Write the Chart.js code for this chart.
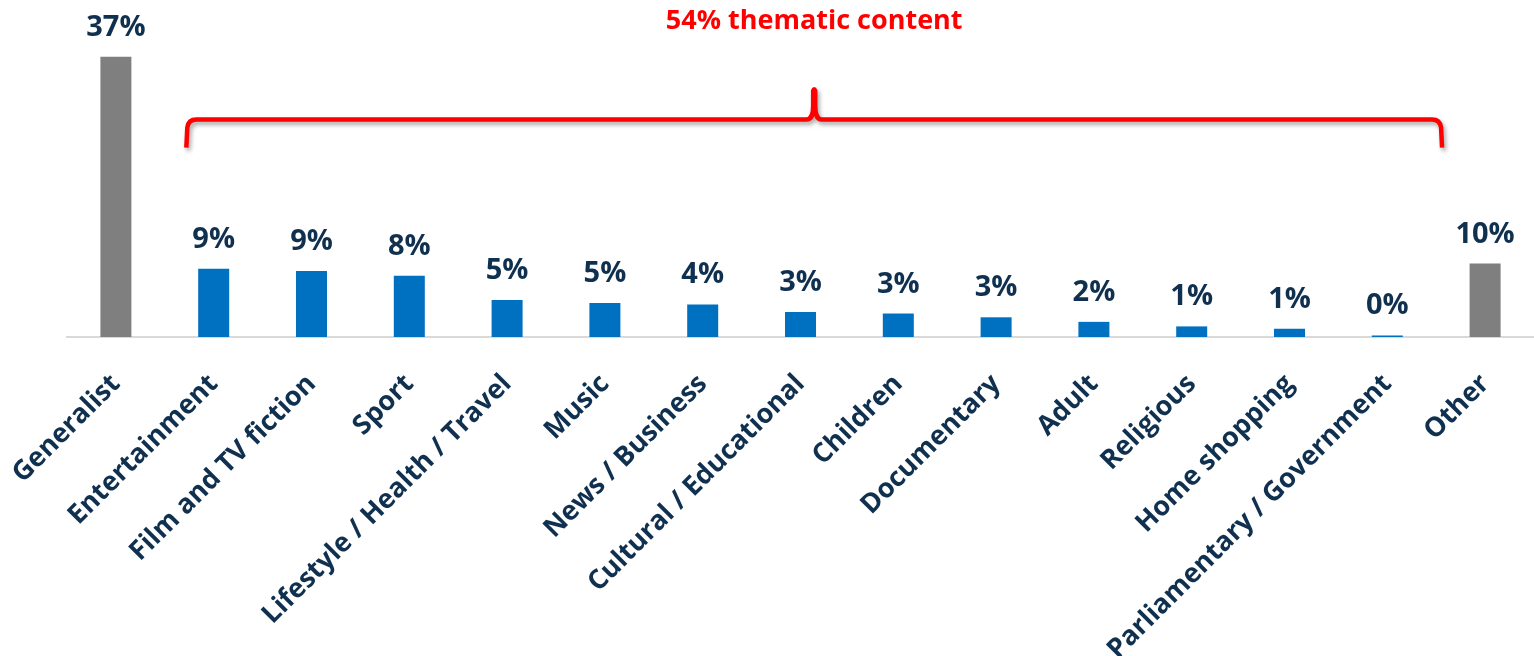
<!DOCTYPE html>
<html>
<head>
<meta charset="utf-8">
<script src="https://cdn.jsdelivr.net/npm/chart.js@4/dist/chart.umd.min.js"></script>
<style>
html,body{margin:0;padding:0;background:#fff;}
#wrap{width:1534px;height:656px;position:relative;}
</style>
</head>
<body>
<div id="wrap"><canvas id="c"></canvas></div>
<script>
// ---- data ----
const categories = ['Generalist','Entertainment','Film and TV fiction','Sport','Lifestyle / Health / Travel','Music','News / Business','Cultural / Educational','Children','Documentary','Adult','Religious','Home shopping','Parliamentary / Government','Other'];
const shares = [37, 9.0, 8.7, 8.1, 4.9, 4.5, 4.3, 3.3, 3.1, 2.6, 2.0, 1.4, 1.1, 0.2, 9.7];
const shareLabels = ['37%','9%','9%','8%','5%','5%','4%','3%','3%','3%','2%','1%','1%','0%','10%'];
const groups = ['overall','thematic','thematic','thematic','thematic','thematic','thematic','thematic','thematic','thematic','thematic','thematic','thematic','thematic','overall'];
const bracketTitle = '54% thematic content';
const bracketFirst = 1;   // Entertainment
const bracketLast = 13;   // Parliamentary / Government

const GREY = '#7f7f7f', BLUE = '#0070c0', NAVY = '#10304f', RED = '#ff0000';
const FONT = "'Open Sans', 'Noto Sans', sans-serif";

const valueLabels = {
  id: 'valueLabels',
  afterDatasetsDraw(chart) {
    const ctx = chart.ctx;
    const meta = chart.getDatasetMeta(0);
    ctx.save();
    ctx.fillStyle = NAVY;
    ctx.font = "bold 29px " + FONT;
    ctx.textAlign = 'center';
    ctx.textBaseline = 'alphabetic';
    meta.data.forEach((bar, i) => {
      ctx.fillText(shareLabels[i], bar.x, bar.y - 21);
    });
    ctx.restore();
  }
};

const bracket = {
  id: 'bracket',
  afterDraw(chart, args, opts) {
    const ctx = chart.ctx;
    const xs = chart.scales.x, ys = chart.scales.y;
    const step = xs.getPixelForValue(1) - xs.getPixelForValue(0);
    const left = xs.getPixelForValue(bracketFirst) - 0.28 * step;
    const right = xs.getPixelForValue(bracketLast) + 0.56 * step;
    const mid = (left + right) / 2;
    const yBar = ys.getPixelForValue(opts.barLevel);
    const yLeg = ys.getPixelForValue(opts.legLevel);
    const yTip = ys.getPixelForValue(opts.tipLevel);
    const r = 8;
    ctx.save();
    ctx.strokeStyle = RED;
    ctx.lineWidth = 4.5;
    ctx.lineCap = 'butt';
    ctx.lineJoin = 'round';
    ctx.shadowColor = 'rgba(0,0,0,0.35)';
    ctx.shadowBlur = 4;
    ctx.shadowOffsetX = 2;
    ctx.shadowOffsetY = 3;
    ctx.beginPath();
    ctx.moveTo(left, yLeg);
    ctx.lineTo(left + 1, yBar + r);
    ctx.quadraticCurveTo(left + 2, yBar, left + r + 2, yBar);
    ctx.lineTo(mid - 8, yBar);
    ctx.bezierCurveTo(mid - 2, yBar, mid - 1, yBar - 6, mid - 1, yBar - 14);
    ctx.lineTo(mid - 1, yTip + 3);
    ctx.quadraticCurveTo(mid, yTip, mid + 1, yTip + 3);
    ctx.lineTo(mid + 1, yBar - 14);
    ctx.bezierCurveTo(mid + 1, yBar - 6, mid + 2, yBar, mid + 8, yBar);
    ctx.lineTo(right - r - 2, yBar);
    ctx.quadraticCurveTo(right - 2, yBar, right - 1, yBar + r);
    ctx.lineTo(right, yLeg);
    ctx.stroke();
    ctx.restore();

    ctx.save();
    ctx.fillStyle = RED;
    ctx.font = "bold 27px " + FONT;
    ctx.textAlign = 'center';
    ctx.textBaseline = 'middle';
    ctx.fillText(bracketTitle, mid, ys.getPixelForValue(opts.titleLevel));
    ctx.restore();
  }
};

new Chart(document.getElementById('c'), {
  type: 'bar',
  data: {
    labels: categories,
    datasets: [{
      data: shares,
      backgroundColor: groups.map(g => g === 'overall' ? GREY : BLUE),
      borderWidth: 0,
      categoryPercentage: 1,
      barPercentage: 0.317
    }]
  },
  options: {
    responsive: true,
    maintainAspectRatio: false,
    animation: false,
    layout: { padding: { left: 67, top: 34, right: 0, bottom: 0 } },
    scales: {
      x: {
        grid: { display: false },
        border: { display: true, color: '#d9d9d9', width: 2 },
        ticks: {
          autoSkip: false,
          minRotation: 45,
          maxRotation: 45,
          padding: 23,
          color: NAVY,
          font: { family: FONT, weight: 'bold', size: 27 }
        },
        afterFit(scale) { scale.height = 319; scale.paddingLeft = 0; scale.paddingRight = 0; }
      },
      y: { display: false, min: 0, max: 40 }
    },
    plugins: {
      legend: { display: false },
      tooltip: { enabled: false },
      bracket: { barLevel: 28.7, legLevel: 25.0, tipLevel: 32.9, titleLevel: 41.7 }
    }
  },
  plugins: [valueLabels, bracket]
});
</script>
</body>
</html>
